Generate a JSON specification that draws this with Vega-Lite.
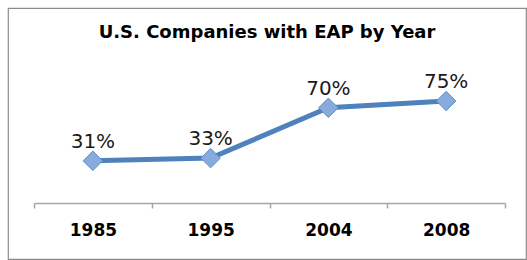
{
  "$schema": "https://vega.github.io/schema/vega-lite/v6.json",
  "width": 518,
  "height": 251,
  "autosize": {"type": "none"},
  "padding": {"left": 8, "top": 8, "right": 1, "bottom": 1},
  "background": "white",
  "title": {
    "text": "U.S. Companies with EAP by Year",
    "font": "DejaVu Sans",
    "fontSize": 18,
    "fontWeight": "bold",
    "color": "#000000",
    "anchor": "middle",
    "baseline": "alphabetic",
    "offset": -48
  },
  "config": {
    "view": {"stroke": "#8c8c8c", "strokeWidth": 1.2}
  },
  "data": {
    "values": [
      {"year": "1985", "pct": 0.31},
      {"year": "1995", "pct": 0.33},
      {"year": "2004", "pct": 0.70},
      {"year": "2008", "pct": 0.75}
    ]
  },
  "encoding": {
    "x": {
      "field": "year",
      "type": "ordinal",
      "scale": {"type": "band", "range": [26, 497], "paddingInner": 0, "paddingOuter": 0},
      "axis": {
        "title": null,
        "offset": -56,
        "labelAngle": 0,
        "labelFont": "DejaVu Sans",
        "labelFontSize": 17,
        "labelFontWeight": "bold",
        "labelColor": "#000000",
        "labelPadding": 14,
        "domainColor": "#a6a6a6",
        "domainWidth": 1.5,
        "tickColor": "#a6a6a6",
        "tickWidth": 1.5,
        "tickSize": 5,
        "tickBand": "extent",
        "grid": false
      }
    },
    "y": {
      "field": "pct",
      "type": "quantitative",
      "scale": {"domain": [0, 1], "range": [195, 59]},
      "axis": null
    }
  },
  "layer": [
    {
      "mark": {"type": "line", "color": "#4F81BD", "strokeWidth": 5}
    },
    {
      "mark": {"type": "point", "shape": "diamond", "size": 380, "filled": true, "fill": "#86ABDC", "stroke": "#5E8ECB", "strokeWidth": 1, "opacity": 1}
    },
    {
      "mark": {"type": "text", "font": "DejaVu Sans", "fontSize": 20, "color": "#1a1a1a", "baseline": "alphabetic", "dy": -13},
      "encoding": {
        "text": {"field": "pct", "type": "quantitative", "format": ".0%"}
      }
    }
  ]
}
